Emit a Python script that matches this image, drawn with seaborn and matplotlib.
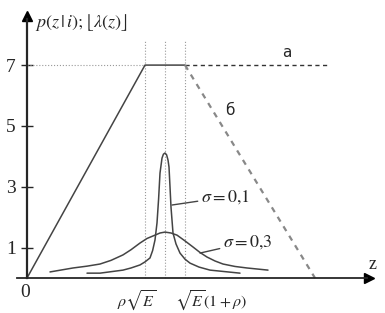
import numpy as np
import matplotlib.pyplot as plt
import seaborn as sns
import pandas as pd

# values (z in arbitrary units, y = p or lambda)
ramp_z = [0.0, 5.9, 7.9]
ramp_y = [0.0, 7.0, 7.0]

a_z = [7.9, 15.0]
a_y = [7.0, 7.0]

b_z = [7.9, 14.4]
b_y = [7.0, 0.0]

s1_z = [3.0, 3.65, 4.8, 5.2, 5.65, 5.9, 6.15, 6.28, 6.4, 6.5, 6.58, 6.65, 6.75, 6.82, 6.9,
        6.98, 7.05, 7.1, 7.15, 7.2, 7.3, 7.45, 7.65, 7.9, 8.15, 8.6, 9.15, 10.65]
s1_y = [0.16, 0.16, 0.26, 0.33, 0.43, 0.53, 0.66, 0.9, 1.25, 1.81, 2.6, 3.45, 3.94, 4.07, 4.11,
        4.05, 3.88, 3.65, 3.0, 2.33, 1.48, 1.12, 0.82, 0.62, 0.49, 0.36, 0.26, 0.16]

s3_z = [1.15, 2.3, 3.0, 3.65, 4.2, 4.8, 5.2, 5.65, 6.0, 6.4, 6.65, 6.9, 7.2, 7.5, 7.9, 8.3,
        8.65, 9.0, 9.4, 9.8, 10.4, 11.0, 12.05]
s3_y = [0.20, 0.33, 0.39, 0.46, 0.58, 0.76, 0.93, 1.15, 1.30, 1.41, 1.48, 1.51, 1.48, 1.41, 1.22, 1.02,
        0.84, 0.69, 0.56, 0.46, 0.38, 0.33, 0.26]

marks_z = [5.9, 6.9, 7.9]
yticks = [1, 3, 5, 7]

sns.set_style("white")
plt.rcParams["font.family"] = ["Liberation Serif", "DejaVu Serif"]
plt.rcParams["mathtext.fontset"] = "stix"

fig = plt.figure(figsize=(3.85, 3.13), dpi=100)
ax = fig.add_axes([0, 0, 1, 1])
ax.set_xlim(-1.35, 17.9)
ax.set_ylim(-1.15, 9.14)

# guide lines
ax.plot([0, marks_z[0]], [7, 7], ls=":", color="#999999", lw=0.8)
for m in marks_z:
    ax.plot([m, m], [0, 7.82], ls=":", color="#999999", lw=0.8)

# lambda(z): ramp, saturation and two continuations
sns.lineplot(x=ramp_z, y=ramp_y, ax=ax, color="#444444", lw=1.1, sort=False)
ax.plot(a_z, a_y, ls=(0, (3, 2.5)), color="#333333", lw=1.0)
ax.plot(b_z, b_y, ls=(0, (2.5, 2.5)), color="#888888", lw=1.6)

# densities
sns.lineplot(x=s1_z, y=s1_y, ax=ax, color="#444444", lw=1.1, sort=False)
sns.lineplot(x=s3_z, y=s3_y, ax=ax, color="#444444", lw=1.1, sort=False)

# axes with arrows
for s in ["top", "right"]:
    ax.spines[s].set_visible(False)
ax.spines["left"].set_position(("data", 0))
ax.spines["bottom"].set_position(("data", 0))
ax.spines["left"].set_bounds(0, 8.5)
ax.spines["bottom"].set_bounds(-0.5, 17.0)
ax.spines["left"].set_linewidth(1.6)
ax.spines["bottom"].set_linewidth(1.3)
ax.plot(0, 8.6, marker="^", color="black", ms=7, clip_on=False)
ax.plot(17.1, 0, marker=">", color="black", ms=7, clip_on=False)

ax.set_yticks(yticks)
ax.set_yticklabels([str(t) for t in yticks], fontsize=14)
ax.tick_params(axis="y", direction="inout", length=8, width=1, pad=4, left=True)
ax.set_xticks([])

ax.text(-0.1, -0.46, "0", fontsize=14, ha="center", va="center")
ax.text(5.5, -0.74, r"$\rho\sqrt{E}$", fontsize=11.5, ha="center", va="center")
ax.text(9.2, -0.74, r"$\sqrt{E}\left(1+\rho\right)$", fontsize=11.5, ha="center", va="center")
ax.text(17.3, 0.43, "z", fontsize=13, ha="center", va="center")
ax.text(0.4, 8.4, r"$p\left(z\,|\,i\right);\left\lfloor\lambda(z)\right\rfloor$", fontsize=13, ha="left", va="center")

ax.text(13.0, 7.43, "a", fontsize=11, ha="center", va="center", family="DejaVu Sans")
ax.text(10.15, 5.52, "б", fontsize=11, ha="center", va="center", family="DejaVu Sans")

ax.annotate(r"$\sigma = 0{,}1$", xy=(7.25, 2.4), xytext=(8.7, 2.66), fontsize=13, va="center",
            arrowprops=dict(arrowstyle="-", color="#444444", lw=1.0, shrinkA=0, shrinkB=0))
ax.annotate(r"$\sigma = 0{,}3$", xy=(8.65, 0.82), xytext=(9.8, 1.18), fontsize=13, va="center",
            arrowprops=dict(arrowstyle="-", color="#444444", lw=1.0, shrinkA=0, shrinkB=0))

fig.savefig("out.png", dpi=100)
